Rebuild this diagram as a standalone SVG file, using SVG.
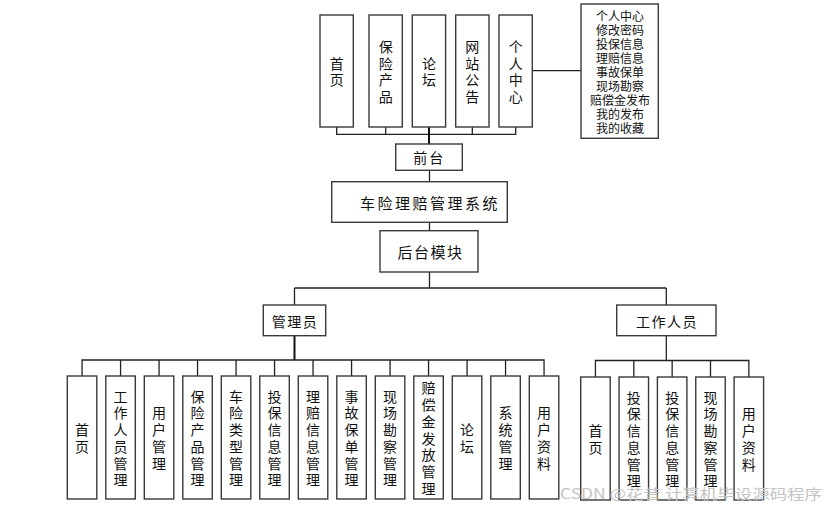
<svg xmlns="http://www.w3.org/2000/svg" width="826" height="509" viewBox="0 0 826 509">
<style>
.b{fill:#fff;stroke:#3a3a3a;stroke-width:1.4}
.t{font-family:"Noto Sans CJK SC","Liberation Sans",sans-serif;font-size:14px;fill:#111;text-anchor:middle;dominant-baseline:central}
.s{font-size:12px}
.c{fill:none;stroke:#222;stroke-width:1.3}
.k{fill:none;stroke:#111;stroke-width:2}
.wm{font-family:"Noto Sans CJK SC","Liberation Sans",sans-serif;font-size:14px;fill:#c4c4c4;dominant-baseline:central}
</style>
<rect width="826" height="509" fill="#fff"/>
<g id="connectors">
<path class="c" d="M336.7 127V134.3H515.7V127M385.7 127V134.3M472.3 127V134.3"/>
<path class="k" d="M429 127V144"/>
<path class="c" d="M532.3 70.7H581"/>
<path class="c" d="M429.5 170.3V181.7M429.5 222.3V230.7M429.5 272V288"/>
<path class="c" d="M294.5 288H666.3M294.5 288V305M666.3 288V305"/>
<path class="k" d="M294.5 335.7V360"/>
<path class="c" d="M82.05 376V360H544.05V376M120.55 360V376M159.05 360V376M197.55 360V376M236.05 360V376M274.55 360V376M313.05 360V376M351.55 360V376M390.05 360V376M428.55 360V376M467.05 360V376M505.55 360V376"/>
<path class="c" d="M666.3 335.7V360.5"/>
<path class="c" d="M595.45 377V360.5H748.85V377M633.8 360.5V377M672.15 360.5V377M710.5 360.5V377"/>
</g>
<g id="top-home"><rect class="b" x="320" y="15" width="33.3" height="112"/><text class="t" x="336.7 336.7" y="62.65 79.35">首页</text></g>
<g id="top-products"><rect class="b" x="369" y="15" width="33.3" height="112"/><text class="t" x="385.7 385.7 385.7 385.7" y="45.95 62.65 79.35 96.05">保险产品</text></g>
<g id="top-forum"><rect class="b" x="412.3" y="15" width="33.3" height="112"/><text class="t" x="429 429" y="62.65 79.35">论坛</text></g>
<g id="top-notice"><rect class="b" x="455.7" y="15" width="33.3" height="112"/><text class="t" x="472.3 472.3 472.3 472.3" y="45.95 62.65 79.35 96.05">网站公告</text></g>
<g id="top-personal"><rect class="b" x="499" y="15" width="33.3" height="112"/><text class="t" x="515.7 515.7 515.7 515.7" y="45.95 62.65 79.35 96.05">个人中心</text></g>
<g id="personal-list"><rect class="b" x="581" y="4" width="77.3" height="134.3"/>
<text class="t s" x="620" y="15"><tspan x="620" y="15">个人中心</tspan><tspan x="620" dy="14">修改密码</tspan><tspan x="620" dy="14">投保信息</tspan><tspan x="620" dy="14">理赔信息</tspan><tspan x="620" dy="14">事故保单</tspan><tspan x="620" dy="14">现场勘察</tspan><tspan x="620" dy="14">赔偿金发布</tspan><tspan x="620" dy="14">我的发布</tspan><tspan x="620" dy="14">我的收藏</tspan></text>
</g>
<g id="frontend"><rect class="b" x="395.7" y="144" width="66.6" height="26.3"/><text class="t" x="429.2" y="157" style="letter-spacing:2px">前台</text></g>
<g id="system"><rect class="b" x="331.7" y="181.7" width="175.6" height="40.6"/><text class="t" x="430" y="202" style="font-size:15px;letter-spacing:2.5px">车险理赔管理系统</text></g>
<g id="backend"><rect class="b" x="380" y="230.7" width="98" height="41.3"/><text class="t" x="430.5" y="251.7" style="font-size:15px;letter-spacing:1.5px">后台模块</text></g>
<g id="admin"><rect class="b" x="263.3" y="305" width="62.4" height="30.7"/><text class="t" x="295" y="320.7" style="letter-spacing:1.5px">管理员</text></g>
<g id="staff"><rect class="b" x="616.7" y="305" width="99.3" height="30.7"/><text class="t" x="667" y="320.7" style="letter-spacing:1.5px">工作人员</text></g>
<g id="a-home"><rect class="b" x="67.3" y="376" width="29.5" height="123"/><text class="t" x="82.05 82.05" y="429.15 445.85">首页</text></g>
<g id="a-staff"><rect class="b" x="105.8" y="376" width="29.5" height="123"/><text class="t" x="120.55 120.55 120.55 120.55 120.55 120.55" y="395.75 412.45 429.15 445.85 462.55 479.25">工作人员管理</text></g>
<g id="a-user"><rect class="b" x="144.3" y="376" width="29.5" height="123"/><text class="t" x="159.05 159.05 159.05 159.05" y="412.45 429.15 445.85 462.55">用户管理</text></g>
<g id="a-product"><rect class="b" x="182.8" y="376" width="29.5" height="123"/><text class="t" x="197.55 197.55 197.55 197.55 197.55 197.55" y="395.75 412.45 429.15 445.85 462.55 479.25">保险产品管理</text></g>
<g id="a-type"><rect class="b" x="221.3" y="376" width="29.5" height="123"/><text class="t" x="236.05 236.05 236.05 236.05 236.05 236.05" y="395.75 412.45 429.15 445.85 462.55 479.25">车险类型管理</text></g>
<g id="a-policy"><rect class="b" x="259.8" y="376" width="29.5" height="123"/><text class="t" x="274.55 274.55 274.55 274.55 274.55 274.55" y="395.75 412.45 429.15 445.85 462.55 479.25">投保信息管理</text></g>
<g id="a-claim"><rect class="b" x="298.3" y="376" width="29.5" height="123"/><text class="t" x="313.05 313.05 313.05 313.05 313.05 313.05" y="395.75 412.45 429.15 445.85 462.55 479.25">理赔信息管理</text></g>
<g id="a-accident"><rect class="b" x="336.8" y="376" width="29.5" height="123"/><text class="t" x="351.55 351.55 351.55 351.55 351.55 351.55" y="395.75 412.45 429.15 445.85 462.55 479.25">事故保单管理</text></g>
<g id="a-survey"><rect class="b" x="375.3" y="376" width="29.5" height="123"/><text class="t" x="390.05 390.05 390.05 390.05 390.05 390.05" y="395.75 412.45 429.15 445.85 462.55 479.25">现场勘察管理</text></g>
<g id="a-payout"><rect class="b" x="413.8" y="376" width="29.5" height="123"/><text class="t" x="428.55 428.55 428.55 428.55 428.55 428.55 428.55" y="387.4 404.1 420.8 437.5 454.2 470.9 487.6">赔偿金发放管理</text></g>
<g id="a-forum"><rect class="b" x="452.3" y="376" width="29.5" height="123"/><text class="t" x="467.05 467.05" y="429.15 445.85">论坛</text></g>
<g id="a-system"><rect class="b" x="490.8" y="376" width="29.5" height="123"/><text class="t" x="505.55 505.55 505.55 505.55" y="412.45 429.15 445.85 462.55">系统管理</text></g>
<g id="a-profile"><rect class="b" x="529.3" y="376" width="29.5" height="123"/><text class="t" x="544.05 544.05 544.05 544.05" y="412.45 429.15 445.85 462.55">用户资料</text></g>
<g id="w-home"><rect class="b" x="580.7" y="377" width="29.5" height="123"/><text class="t" x="595.45 595.45" y="430.15 446.85">首页</text></g>
<g id="w-policy1"><rect class="b" x="619.05" y="377" width="29.5" height="123"/><text class="t" x="633.8 633.8 633.8 633.8 633.8 633.8" y="396.75 413.45 430.15 446.85 463.55 480.25">投保信息管理</text></g>
<g id="w-policy2"><rect class="b" x="657.4" y="377" width="29.5" height="123"/><text class="t" x="672.15 672.15 672.15 672.15 672.15 672.15" y="396.75 413.45 430.15 446.85 463.55 480.25">投保信息管理</text></g>
<g id="w-survey"><rect class="b" x="695.75" y="377" width="29.5" height="123"/><text class="t" x="710.5 710.5 710.5 710.5 710.5 710.5" y="396.75 413.45 430.15 446.85 463.55 480.25">现场勘察管理</text></g>
<g id="w-profile"><rect class="b" x="734.1" y="377" width="29.5" height="123"/><text class="t" x="748.85 748.85 748.85 748.85" y="413.45 430.15 446.85 463.55">用户资料</text></g>
<text class="wm" x="560" y="493" textLength="262" lengthAdjust="spacingAndGlyphs">CSDN @花昔  计算机毕设源码程序</text>
</svg>
